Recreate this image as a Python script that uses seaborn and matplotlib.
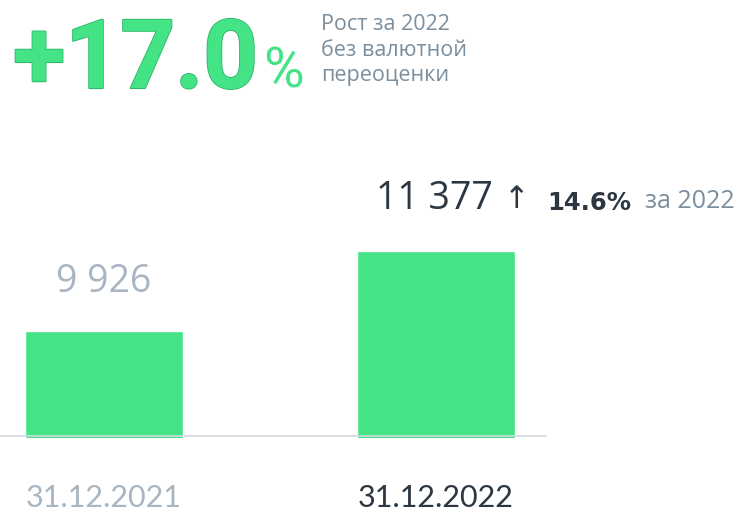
import matplotlib
matplotlib.use("Agg")
import matplotlib.pyplot as plt
import seaborn as sns
import pandas as pd
import matplotlib.patheffects as pe

dates = ["31.12.2021", "31.12.2022"]
values = [9926, 11377]
value_labels = ["9 926", "11 377"]
headline = "+17.0"
headline_note = ["Рост за 2022", "без валютной", "переоценки"]
growth_label = "14.6%"
growth_note = "за 2022"

GREEN = "#44E386"
DARK = "#2D3742"
GRAY = "#A9B5C2"
NOTE = "#7B8E9D"

sns.set_theme(style="white")
plt.rcParams['font.family'] = ['Open Sans', 'DejaVu Sans']

W, H = 741, 512
fig = plt.figure(figsize=(W / 100, H / 100), dpi=100)

def px(x, y):
    return x / W, 1 - y / H

ax_l, ax_r, ax_t, ax_b = 0, 547, 148, 438
ax = fig.add_axes([ax_l / W, 1 - ax_b / H, (ax_r - ax_l) / W, (ax_b - ax_t) / H])

df = pd.DataFrame({"date": dates, "value": values})
sns.barplot(data=df, x="date", y="value", color=GREEN, width=0.476, ax=ax,
            saturation=1)
y0 = 7985
ax.set_ylim(y0, y0 + (ax_b - ax_t) / 0.05513)
ax.set_xlim(-0.313, 1.334)
for s in ax.spines.values():
    s.set_visible(False)
ax.set_xticks([])
ax.set_yticks([])
ax.set_xlabel("")
ax.set_ylabel("")
ax.axhline(y0 + 1.5 / 0.05513, color="#D3DAE2", lw=1.2, zorder=5)

# tick labels
fig.text(*px(104, 498), dates[0], color=GRAY, fontsize=22, ha="center", va="center", family="Lato")
fig.text(*px(436, 498), dates[1], color=DARK, fontsize=22, ha="center", va="center", family="Lato")

# value labels
fig.text(*px(104, 282), value_labels[0], color=GRAY, fontsize=27, ha="center", va="center")
fig.text(*px(376, 199), value_labels[1], color=DARK, fontsize=27, ha="left", va="center")
fig.text(*px(517, 199), "↑", color=DARK, fontsize=22, ha="center", va="center", family="DejaVu Sans")
fig.text(*px(547, 210), growth_label, color=DARK, fontsize=17.5, fontweight="bold", ha="left", va="baseline", family="DejaVu Sans")
fig.text(*px(645, 201), growth_note, color=NOTE, fontsize=18, ha="left", va="center")

# headline
t = fig.text(*px(13, 88), headline, color=GREEN, fontsize=69, fontweight="bold",
             ha="left", va="baseline", family="Roboto")
t.set_path_effects([pe.withStroke(linewidth=1.5, foreground="#2FB86A"), pe.Normal()])
fig.canvas.draw()
bb = t.get_window_extent(fig.canvas.get_renderer())
fig.text(bb.x1 / W + 5 / W, 1 - 88 / H, "%", color=GREEN, fontsize=40, ha="left",
         va="baseline", family="Roboto")

for i, line in enumerate(headline_note):
    fig.text(*px(321, 25 + 25 * i), line, color=NOTE, fontsize=15.5, ha="left", va="center")

fig.savefig("out.png", dpi=100, facecolor="white")
